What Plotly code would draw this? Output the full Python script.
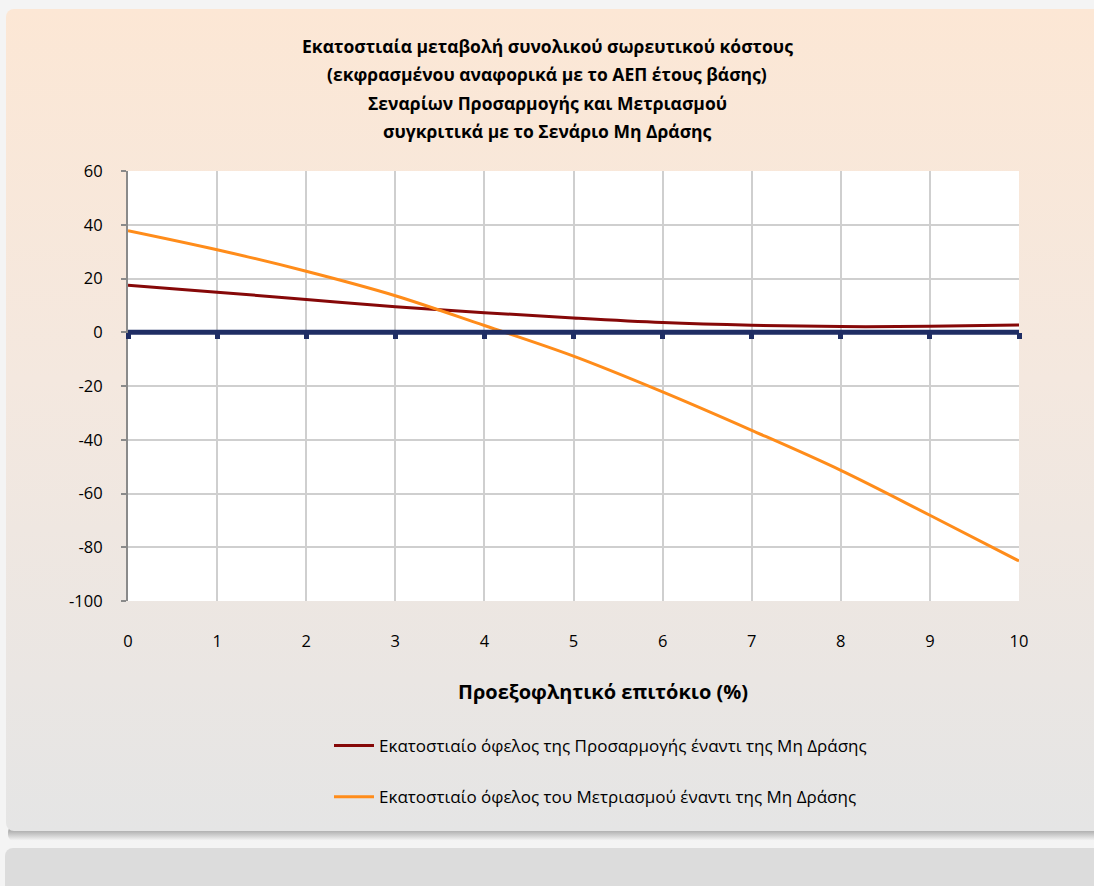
import base64
import plotly.graph_objects as go

# ---------------- data ----------------
rates = [0, 1, 2, 3, 4, 5, 6, 7, 8, 9, 10]
adaptation = [17.5, 14.9, 12.2, 9.5, 7.3, 5.3, 3.6, 2.6, 2.1, 2.2, 2.7]
mitigation = [37.8, 30.7, 22.7, 13.6, 2.5, -8.9, -22.2, -36.5, -51.4, -68.1, -85.1]
no_action = [0, 0, 0, 0, 0, 0, 0, 0, 0, 0, 0]

series_names = [
    "Εκατοστιαίο όφελος της Προσαρμογής έναντι της Μη Δράσης",
    "Εκατοστιαίο όφελος του Μετριασμού έναντι της Μη Δράσης",
]
title_lines = [
    "Εκατοστιαία μεταβολή συνολικού σωρευτικού κόστους",
    "(εκφρασμένου αναφορικά με το ΑΕΠ έτους βάσης)",
    "Σεναρίων Προσαρμογής και Μετριασμού",
    "συγκριτικά με το Σενάριο Μη Δράσης",
]
x_title = "Προεξοφλητικό επιτόκιο (%)"
y_tickvals = [-100, -80, -60, -40, -20, 0, 20, 40, 60]
y_ticktext = ["-100", "-80", "-60", "-40", "-20", "0", "20", "40", "60"]
x_tickvals = rates

# ---------------- layout constants ----------------
W, H = 1094, 886
L, R, T, B = 128, 75, 171, 285
PW, PH = W - L - R, H - T - B
FONT = "Open Sans"

svg = f'''<svg xmlns="http://www.w3.org/2000/svg" width="{W}" height="{H}" viewBox="0 0 {W} {H}">
<defs>
<linearGradient id="g" x1="0" y1="0" x2="0" y2="1">
<stop offset="0" stop-color="#FCE7D5"/>
<stop offset="0.45" stop-color="#F4E8DF"/>
<stop offset="1" stop-color="#E5E5E5"/>
</linearGradient>
<linearGradient id="s" x1="0" y1="0" x2="0" y2="1">
<stop offset="0" stop-color="#8E8E8E"/>
<stop offset="1" stop-color="#F7F7F7"/>
</linearGradient>
</defs>
<rect width="{W}" height="{H}" fill="#F4F4F4"/>
<rect x="8" y="826" width="1100" height="15" rx="6" fill="url(#s)"/>
<rect x="6" y="9" width="1100" height="822" rx="8" fill="url(#g)"/>
<rect x="5" y="848" width="1100" height="60" rx="8" fill="#DCDCDC"/>
</svg>'''
svg_uri = "data:image/svg+xml;base64," + base64.b64encode(svg.encode("utf-8")).decode("ascii")

fig = go.Figure()

# baseline (No-action scenario) drawn as thick navy line on the secondary x axis
fig.add_trace(go.Scatter(
    x=rates, y=no_action, xaxis="x2", yaxis="y", mode="lines",
    line=dict(color="#1F2D64", width=5), showlegend=False, hoverinfo="skip",
))
fig.add_trace(go.Scatter(
    x=rates, y=adaptation, mode="lines", name=series_names[0],
    line=dict(color="#860808", width=3, shape="spline"), legendgroup="a",
))
fig.add_trace(go.Scatter(
    x=rates, y=mitigation, mode="lines", name=series_names[1],
    line=dict(color="#FF8C1A", width=3, shape="spline"), legendgroup="b",
))

def py(pixel_y):
    return (T + PH - pixel_y) / PH

annotations = []
for i, line in enumerate(title_lines):
    annotations.append(dict(
        text=f"<b>{line}</b>", xref="paper", yref="paper",
        x=(547 - L) / PW, y=py([46, 74, 103, 131][i]),
        xanchor="center", yanchor="middle", showarrow=False,
        font=dict(family=FONT, size=17.5, color="#000000"),
    ))
annotations.append(dict(
    text=f"<b>{x_title}</b>", xref="paper", yref="paper",
    x=(603 - L) / PW, y=py(691), xanchor="center", yanchor="middle",
    showarrow=False, font=dict(family=FONT, size=20, color="#000000"),
))

fig.update_layout(
    width=W, height=H,
    margin=dict(l=L, r=R, t=T, b=B, pad=0, autoexpand=False),
    paper_bgcolor="#F4F4F4",
    plot_bgcolor="#FFFFFF",
    font=dict(family=FONT, size=16.5, color="#000000"),
    showlegend=True,
    legend=dict(
        x=(329 - L) / PW, y=py(728), xanchor="left", yanchor="top",
        bgcolor="rgba(0,0,0,0)", font=dict(family=FONT, size=17, color="#000000"),
        tracegroupgap=26, itemwidth=40,
    ),
    xaxis=dict(
        range=[0, 10], tickvals=x_tickvals, showgrid=True, gridcolor="#CFCFCF",
        gridwidth=1.5, zeroline=False, showline=False, ticks="",
        ticklabelstandoff=28, tickfont=dict(size=16.5), automargin=False,
    ),
    xaxis2=dict(
        range=[0, 10], overlaying="x", anchor="free",
        position=100 / 160, side="bottom",
        tickvals=x_tickvals, showticklabels=False, showgrid=False,
        zeroline=False, showline=False, ticks="outside", ticklen=6,
        tickwidth=5, tickcolor="#1F2D64", automargin=False,
    ),
    yaxis=dict(
        range=[-100, 60], tickvals=y_tickvals, ticktext=y_ticktext,
        showgrid=True, gridcolor="#CFCFCF",
        gridwidth=1.5, zeroline=False, showline=True, linecolor="#8A8A8A",
        linewidth=2, ticks="outside", ticklen=5, tickwidth=2, tickcolor="#8A8A8A",
        ticklabelstandoff=15, tickfont=dict(size=16.5), automargin=False,
    ),
    annotations=annotations,
    images=[dict(
        source=svg_uri, xref="paper", yref="paper",
        x=-L / PW, y=1 + T / PH, sizex=W / PW, sizey=H / PH,
        xanchor="left", yanchor="top", sizing="stretch", layer="below",
    )],
    shapes=[dict(
        type="rect", xref="x domain", yref="y domain", x0=0, x1=1, y0=0, y1=1,
        fillcolor="#FFFFFF", line=dict(width=0), layer="below",
    )],
)

fig.write_html(
    "out.html",
    config={"displayModeBar": False},
    post_script="document.body.style.margin='0';document.body.style.overflow='hidden';",
)
